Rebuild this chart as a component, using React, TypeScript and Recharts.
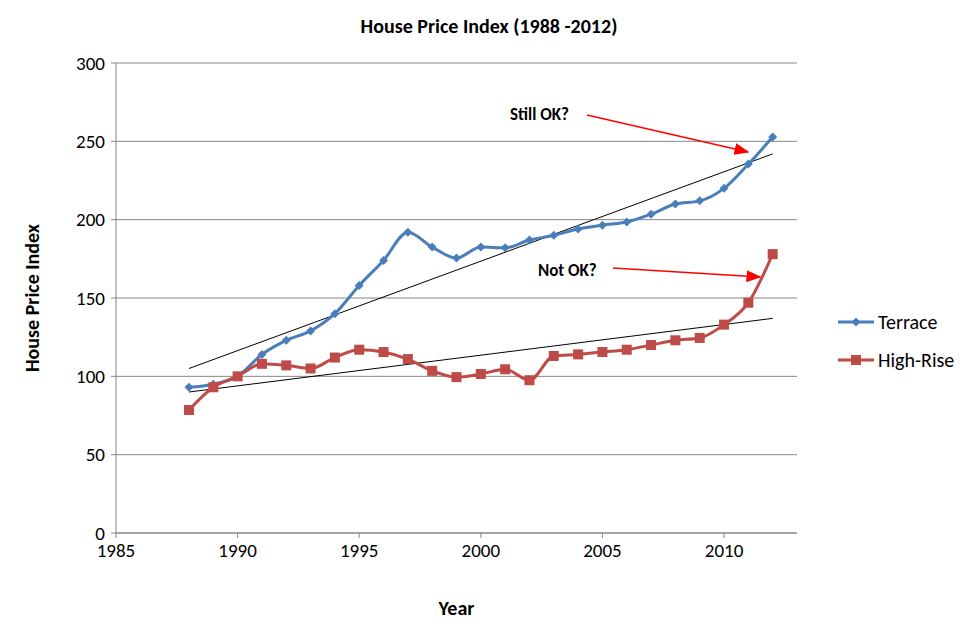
import React from 'react';
import { LineChart, Line, XAxis, YAxis, CartesianGrid, ReferenceLine } from 'recharts';

const years = [1988, 1989, 1990, 1991, 1992, 1993, 1994, 1995, 1996, 1997, 1998, 1999, 2000, 2001, 2002, 2003, 2004, 2005, 2006, 2007, 2008, 2009, 2010, 2011, 2012];
const terrace = [93, 95, 100, 114, 123, 129, 140, 158, 174, 192, 182.5, 175.5, 182.5, 182, 187, 190, 194, 196.5, 198.5, 203.5, 210, 212, 220, 235.5, 252.7];
const highRise = [78.5, 93, 100, 108, 107, 105, 112, 117, 115.5, 111, 103.5, 99.5, 101.5, 104.5, 97.5, 113, 114, 115.5, 117, 120, 123, 124.5, 133, 147, 178];
const terraceTrend = [[1988, 105], [2012, 242]];
const highRiseTrend = [[1988, 90], [2012, 137]];
const xTicks = [1985, 1990, 1995, 2000, 2005, 2010];
const yTicks = [0, 50, 100, 150, 200, 250, 300];

const data = years.map((year, i) => ({ year, terrace: terrace[i], highRise: highRise[i] }));

const font = 'Calibri, Carlito, "Open Sans", "Liberation Sans", sans-serif';

const Diamond = (props: any) => {
  const { cx, cy } = props;
  return <path d={`M${cx},${cy - 4.5}L${cx + 4.5},${cy}L${cx},${cy + 4.5}L${cx - 4.5},${cy}Z`} fill="#4a7ebb" />;
};

const Square = (props: any) => {
  const { cx, cy } = props;
  return <rect x={cx - 5} y={cy - 5} width={10} height={10} fill="#be4b48" />;
};

export default function App() {
  return (
    <div style={{ position: 'relative', width: 978, height: 643, margin: -8, fontFamily: font, background: '#fff' }}>
      <div style={{ position: 'absolute', inset: 0, border: '1px solid #888', boxSizing: 'border-box', pointerEvents: 'none' }} />
      <div style={{ position: 'absolute', top: 14, width: 978, textAlign: 'center', fontWeight: 'bold', fontSize: 20 }}>
        House Price Index (1988 -2012)
      </div>
      <LineChart width={978} height={643} data={data} margin={{ top: 63, right: 181, left: 56, bottom: 80 }}>
        <CartesianGrid vertical={false} stroke="#868686" />
        <XAxis
          dataKey="year"
          type="number"
          domain={[1985, 2013]}
          ticks={xTicks}
          stroke="#868686"
          tick={{ fill: '#000', fontSize: 19, fontFamily: font }}
          tickSize={5}
          tickMargin={6}
          height={30}
          label={{ value: 'Year', position: 'insideBottom', offset: -52, style: { fontWeight: 'bold', fontSize: 20, fill: '#000', fontFamily: font } }}
        />
        <YAxis
          domain={[0, 300]}
          ticks={yTicks}
          stroke="#868686"
          tick={{ fill: '#000', fontSize: 19, fontFamily: font }}
          tickSize={5}
          tickMargin={6}
          width={60}
          label={{ value: 'House Price Index', angle: -90, position: 'insideLeft', offset: -24, style: { textAnchor: 'middle', fontWeight: 'bold', fontSize: 20, fill: '#000', fontFamily: font } }}
        />
        <ReferenceLine segment={terraceTrend.map(([x, y]) => ({ x, y }))} stroke="#000" strokeWidth={1} />
        <ReferenceLine segment={highRiseTrend.map(([x, y]) => ({ x, y }))} stroke="#000" strokeWidth={1} />
        <Line dataKey="terrace" type="monotone" stroke="#4a7ebb" strokeWidth={3} dot={<Diamond />} isAnimationActive={false} />
        <Line dataKey="highRise" type="monotone" stroke="#be4b48" strokeWidth={3} dot={<Square />} isAnimationActive={false} />
      </LineChart>
      <svg width={978} height={643} style={{ position: 'absolute', left: 0, top: 0, pointerEvents: 'none' }}>
        <defs>
          <marker id="arr" markerWidth="10" markerHeight="8" refX="9" refY="4" orient="auto">
            <path d="M0,0L10,4L0,8Z" fill="red" />
          </marker>
        </defs>
        <text x={510} y={120} fontSize={17} fontWeight="bold" fontFamily={font}>Still OK?</text>
        <line x1={587} y1={115} x2={748} y2={152} stroke="red" strokeWidth={1.5} markerEnd="url(#arr)" />
        <text x={538} y={276} fontSize={17} fontWeight="bold" fontFamily={font}>Not OK?</text>
        <line x1={613} y1={268} x2={760} y2={277} stroke="red" strokeWidth={1.5} markerEnd="url(#arr)" />
      </svg>
      <div style={{ position: 'absolute', left: 838, top: 303, fontSize: 20, lineHeight: '38px' }}>
        <div style={{ display: 'flex', alignItems: 'center' }}>
          <svg width={36} height={12}><line x1={0} y1={6} x2={36} y2={6} stroke="#4a7ebb" strokeWidth={3} /><path d="M18,1.5L22.5,6L18,10.5L13.5,6Z" fill="#4a7ebb" /></svg>
          <span style={{ marginLeft: 4 }}>Terrace</span>
        </div>
        <div style={{ display: 'flex', alignItems: 'center' }}>
          <svg width={36} height={12}><line x1={0} y1={6} x2={36} y2={6} stroke="#be4b48" strokeWidth={3} /><rect x={13} y={1} width={10} height={10} fill="#be4b48" /></svg>
          <span style={{ marginLeft: 4 }}>High-Rise</span>
        </div>
      </div>
    </div>
  );
}
